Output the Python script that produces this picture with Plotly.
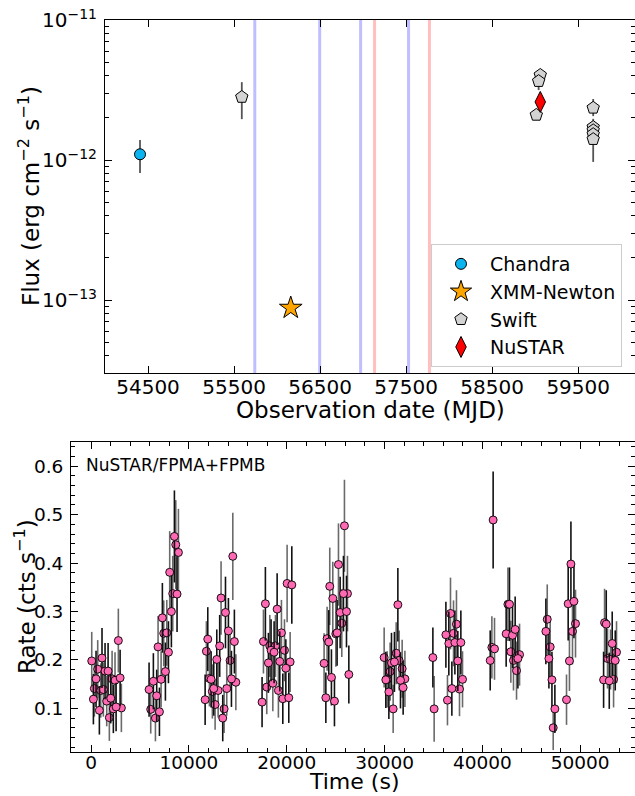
import plotly.graph_objects as go

W, H = 635, 796
FONT = "DejaVu Sans"

# ---------------- Top panel data (MJD, flux) ----------------
chandra_mjd = [54407]
chandra_flux = [1.10e-12]
chandra_err_up = [0.29e-12]
chandra_err_dn = [0.29e-12]

xmm_mjd = [56159]
xmm_flux = [8.8e-14]
xmm_err_up = [0.7e-14]
xmm_err_dn = [0.7e-14]

swift_mjd = [55590, 59059, 59040, 59013, 59674, 59674, 59674, 59674, 59674]
swift_flux = [2.82e-12, 4.05e-12, 3.66e-12, 2.10e-12, 2.36e-12, 1.72e-12, 1.63e-12, 1.53e-12, 1.41e-12]
swift_err_up = [0.78e-12, 0.25e-12, 0.25e-12, 0.15e-12, 0.37e-12, 0.25e-12, 0.2e-12, 0.2e-12, 0.2e-12]
swift_err_dn = [0.86e-12, 0.25e-12, 0.5e-12, 0.15e-12, 0.3e-12, 0.25e-12, 0.2e-12, 0.2e-12, 0.44e-12]

nustar_mjd = [59059]
nustar_flux = [2.60e-12]
nustar_err = [0.12e-12]

vline_blue_mjd = [55741, 56495, 56971, 57528]
vline_red_mjd = [57133, 57771]

top_xticks = [54500, 55500, 56500, 57500, 58500, 59500]
top_yticks = [1e-13, 1e-12, 1e-11]
top_yticktext = ["10<sup>−13</sup>", "10<sup>−12</sup>", "10<sup>−11</sup>"]

# ---------------- Bottom panel data (time, rate, err) ----------------
t_g1 = [70, 240, 340, 510, 680, 850, 990, 1120, 1260, 1430, 1600, 1740, 1870, 2010, 2150, 2280, 2450, 2560, 2790, 2970, 3100]
r_g1 = [0.198, 0.119, 0.141, 0.161, 0.181, 0.096, 0.137, 0.204, 0.139, 0.177, 0.115, 0.177, 0.081, 0.121, 0.161, 0.099, 0.158, 0.103, 0.240, 0.163, 0.101]
e_g1 = [0.060, 0.052, 0.058, 0.058, 0.060, 0.050, 0.056, 0.062, 0.056, 0.058, 0.052, 0.058, 0.048, 0.052, 0.058, 0.050, 0.058, 0.050, 0.066, 0.058, 0.050]

t_g2 = [5930, 6100, 6370, 6580, 6710, 6850, 6990, 7160, 7290, 7430, 7600, 7740, 7910, 8040, 8210, 8350, 8520, 8660, 8790, 8930]
r_g2 = [0.139, 0.098, 0.156, 0.080, 0.126, 0.227, 0.093, 0.160, 0.287, 0.255, 0.176, 0.256, 0.216, 0.381, 0.300, 0.337, 0.455, 0.438, 0.336, 0.422]
e_g2 = [0.056, 0.050, 0.058, 0.048, 0.054, 0.064, 0.050, 0.058, 0.072, 0.068, 0.060, 0.068, 0.064, 0.085, 0.074, 0.078, 0.095, 0.092, 0.078, 0.090]

t_g3 = [11660, 11790, 11930, 12100, 12270, 12400, 12540, 12680, 12850, 12990, 13150, 13290, 13460, 13600, 13740, 13870, 14040, 14210, 14350, 14490, 14650, 14800]
r_g3 = [0.118, 0.218, 0.243, 0.162, 0.160, 0.135, 0.141, 0.108, 0.201, 0.137, 0.229, 0.328, 0.080, 0.099, 0.298, 0.141, 0.260, 0.199, 0.161, 0.414, 0.238, 0.154]
e_g3 = [0.052, 0.062, 0.066, 0.058, 0.058, 0.056, 0.056, 0.052, 0.062, 0.056, 0.064, 0.076, 0.048, 0.050, 0.074, 0.056, 0.068, 0.062, 0.058, 0.090, 0.066, 0.058]

t_g4 = [17480, 17620, 17820, 17960, 18130, 18270, 18400, 18580, 18710, 18850, 19020, 19150, 19290, 19460, 19600, 19770, 19910, 20040, 20210, 20350, 20520]
r_g4 = [0.113, 0.238, 0.316, 0.144, 0.194, 0.229, 0.220, 0.152, 0.216, 0.229, 0.305, 0.137, 0.197, 0.256, 0.120, 0.220, 0.183, 0.358, 0.122, 0.196, 0.355]
e_g4 = [0.052, 0.066, 0.076, 0.056, 0.062, 0.064, 0.064, 0.058, 0.064, 0.064, 0.074, 0.056, 0.062, 0.068, 0.052, 0.064, 0.060, 0.080, 0.052, 0.062, 0.080]

t_g5 = [23820, 24000, 24130, 24300, 24400, 24570, 24710, 24880, 25020, 25150, 25290, 25460, 25630, 25800, 25900, 26110, 26210, 26350]
r_g5 = [0.193, 0.122, 0.244, 0.237, 0.352, 0.164, 0.327, 0.115, 0.254, 0.256, 0.397, 0.298, 0.276, 0.337, 0.477, 0.300, 0.337, 0.170]
e_g5 = [0.062, 0.052, 0.066, 0.066, 0.080, 0.058, 0.076, 0.052, 0.068, 0.068, 0.085, 0.074, 0.070, 0.078, 0.095, 0.074, 0.078, 0.060]

t_g6 = [29960, 30130, 30270, 30440, 30570, 30710, 30880, 31010, 31190, 31360, 31490, 31630, 31800, 31900, 32080]
r_g6 = [0.205, 0.159, 0.160, 0.134, 0.176, 0.194, 0.099, 0.196, 0.214, 0.314, 0.199, 0.158, 0.182, 0.143, 0.161]
e_g6 = [0.062, 0.058, 0.058, 0.056, 0.060, 0.062, 0.050, 0.062, 0.064, 0.076, 0.062, 0.058, 0.060, 0.056, 0.058]

t_g7 = [34940, 35070]
r_g7 = [0.205, 0.099]
e_g7 = [0.062, 0.068]

t_g8 = [36270, 36430, 36570, 36740, 36880, 37050, 37190, 37350, 37490, 37660, 37800, 37970]
r_g8 = [0.252, 0.117, 0.234, 0.296, 0.141, 0.255, 0.236, 0.274, 0.198, 0.140, 0.236, 0.160]
e_g8 = [0.068, 0.052, 0.066, 0.074, 0.056, 0.068, 0.066, 0.070, 0.062, 0.056, 0.066, 0.058]

t_g9 = [40800, 40970, 41100, 41240]
r_g9 = [0.199, 0.226, 0.489, 0.223]
e_g9 = [0.062, 0.064, 0.100, 0.064]

t_g10 = [42430, 42610, 42770, 42910, 43080, 43180, 43350, 43490, 43630, 43800]
r_g10 = [0.254, 0.315, 0.315, 0.217, 0.251, 0.199, 0.263, 0.178, 0.203, 0.211]
e_g10 = [0.068, 0.076, 0.076, 0.064, 0.068, 0.062, 0.068, 0.060, 0.062, 0.064]

t_g11 = [46490, 46630, 46800, 46930, 47110, 47240, 47410]
r_g11 = [0.259, 0.284, 0.203, 0.227, 0.159, 0.060, 0.099]
e_g11 = [0.068, 0.072, 0.062, 0.064, 0.058, 0.046, 0.050]

t_g12 = [48600, 48770, 48900, 49050, 49210, 49360, 49520]
r_g12 = [0.118, 0.316, 0.198, 0.398, 0.259, 0.321, 0.275]
e_g12 = [0.052, 0.076, 0.062, 0.088, 0.068, 0.076, 0.070]

t_g13 = [52390, 52490, 52660, 52790, 52970, 53100, 53270, 53410, 53580, 53710]
r_g13 = [0.159, 0.277, 0.274, 0.203, 0.157, 0.201, 0.234, 0.160, 0.199, 0.216]
e_g13 = [0.058, 0.070, 0.070, 0.062, 0.058, 0.062, 0.066, 0.058, 0.062, 0.064]

bot_xticks = [0, 10000, 20000, 30000, 40000, 50000]
bot_yticks = [0.1, 0.2, 0.3, 0.4, 0.5, 0.6]

time_s = t_g1 + t_g2 + t_g3 + t_g4 + t_g5 + t_g6 + t_g7 + t_g8 + t_g9 + t_g10 + t_g11 + t_g12 + t_g13
rate = r_g1 + r_g2 + r_g3 + r_g4 + r_g5 + r_g6 + r_g7 + r_g8 + r_g9 + r_g10 + r_g11 + r_g12 + r_g13
rate_err = e_g1 + e_g2 + e_g3 + e_g4 + e_g5 + e_g6 + e_g7 + e_g8 + e_g9 + e_g10 + e_g11 + e_g12 + e_g13

fig = go.Figure()

ERR_GRAY = "#555555"

def add_top(x, y, up, dn, name, symbol, size, color):
    fig.add_trace(go.Scatter(
        x=x, y=y, mode="markers", name=name, xaxis="x", yaxis="y",
        marker=dict(symbol=symbol, size=size, color=color, line=dict(color="black", width=1)),
        error_y=dict(type="data", symmetric=False, array=up, arrayminus=dn,
                     color=ERR_GRAY, thickness=1.8, width=0),
    ))

add_top(chandra_mjd, chandra_flux, chandra_err_up, chandra_err_dn, "Chandra", "circle", 11, "#0BB4EE")
add_top(xmm_mjd, xmm_flux, xmm_err_up, xmm_err_dn, "XMM-Newton", "star", 17, "#FFA500")
add_top(swift_mjd, swift_flux, swift_err_up, swift_err_dn, "Swift", "pentagon", 13, "#D3D3D3")
add_top(nustar_mjd, nustar_flux, nustar_err, nustar_err, "NuSTAR", "diamond-tall", 15, "#FF0000")

# Bottom panel: alternating FPMA / FPMB error colours
for start, ecol in [(0, "#6a6a6a"), (1, "#111111")]:
    fig.add_trace(go.Scatter(
        x=time_s[start::2], y=rate[start::2], mode="markers", showlegend=False,
        xaxis="x2", yaxis="y2",
        marker=dict(symbol="circle", size=8, color="#FF69B4", line=dict(color="black", width=0.9)),
        error_y=dict(type="data", array=rate_err[start::2], color=ecol, thickness=1.6, width=0),
    ))

shapes = []
for m in vline_blue_mjd:
    shapes.append(dict(type="line", xref="x", yref="y domain", x0=m, x1=m, y0=0, y1=1,
                       line=dict(color="rgba(0,0,255,0.25)", width=3), layer="below"))
for m in vline_red_mjd:
    shapes.append(dict(type="line", xref="x", yref="y domain", x0=m, x1=m, y0=0, y1=1,
                       line=dict(color="rgba(255,0,0,0.25)", width=3), layer="below"))

axis_common = dict(showgrid=False, zeroline=False, showline=True, linecolor="black", linewidth=1,
                   ticks="inside", tickcolor="black", ticklen=7, tickwidth=1,
                   mirror="allticks", automargin=False)

fig.update_layout(
    width=W, height=H,
    margin=dict(l=0, r=0, t=0, b=0, autoexpand=False),
    paper_bgcolor="white", plot_bgcolor="white",
    font=dict(family=FONT, color="black"),
    shapes=shapes,
    showlegend=True,
    legend=dict(x=431 / W, y=1 - 244 / H, xanchor="left", yanchor="top",
                bordercolor="#cccccc", borderwidth=1, bgcolor="white",
                font=dict(size=19, family=FONT), itemwidth=48, tracegroupgap=0),
    xaxis=dict(domain=[105 / W, 1.0], range=[54000, 60160], anchor="y",
               tickmode="array", tickvals=top_xticks, ticktext=[str(v) for v in top_xticks],
               tickfont=dict(size=20), ticklabelstandoff=-4, **axis_common),
    yaxis=dict(domain=[1 - 373 / H, 1 - 20 / H], type="log", range=[-13.52, -11], anchor="x",
               tickmode="array", tickvals=top_yticks, ticktext=top_yticktext, tickfont=dict(size=20),
               ticklabelstandoff=3,
               minor=dict(ticks="inside", ticklen=4, tickcolor="black", dtick="D1", showgrid=False),
               **axis_common),
    xaxis2=dict(domain=[71 / W, 1.0], range=[-2050, 55600], anchor="y2",
                tickmode="array", tickvals=bot_xticks, ticktext=[str(v) for v in bot_xticks],
                tickfont=dict(size=18.5), ticklabelstandoff=-6,
                minor=dict(ticks="inside", ticklen=4, tickcolor="black", dtick=2000, tick0=0, showgrid=False),
                **axis_common),
    yaxis2=dict(domain=[1 - 752 / H, 1 - 442 / H], range=[0.01, 0.65], anchor="x2",
                tickmode="array", tickvals=bot_yticks, ticktext=[f"{v:.1f}" for v in bot_yticks],
                tickfont=dict(size=18.5), ticklabelstandoff=3,
                minor=dict(ticks="inside", ticklen=4, tickcolor="black", dtick=0.02, tick0=0, showgrid=False),
                **axis_common),
    annotations=[
        dict(text="Flux (erg cm<sup>−2</sup> s<sup>−1</sup>)", xref="paper", yref="paper",
             x=29 / W, y=1 - 196 / H, xanchor="center", yanchor="middle", textangle=-90,
             showarrow=False, font=dict(size=23)),
        dict(text="Observation date (MJD)", xref="paper", yref="paper",
             x=370 / W, y=1 - 410 / H, xanchor="center", yanchor="middle",
             showarrow=False, font=dict(size=23)),
        dict(text="Rate (cts s<sup>−1</sup>)", xref="paper", yref="paper",
             x=25 / W, y=1 - 597 / H, xanchor="center", yanchor="middle", textangle=-90,
             showarrow=False, font=dict(size=23)),
        dict(text="Time (s)", xref="paper", yref="paper",
             x=354 / W, y=0, xanchor="center", yanchor="bottom",
             showarrow=False, font=dict(size=22)),
        dict(text="NuSTAR/FPMA+FPMB", xref="paper", yref="paper",
             x=84 / W, y=1 - 465 / H, xanchor="left", yanchor="middle",
             showarrow=False, font=dict(size=17)),
    ],
)

fig.write_html("out.html", config={"displayModeBar": False},
               post_script="document.body.style.margin='0px';document.body.style.overflow='hidden';")
